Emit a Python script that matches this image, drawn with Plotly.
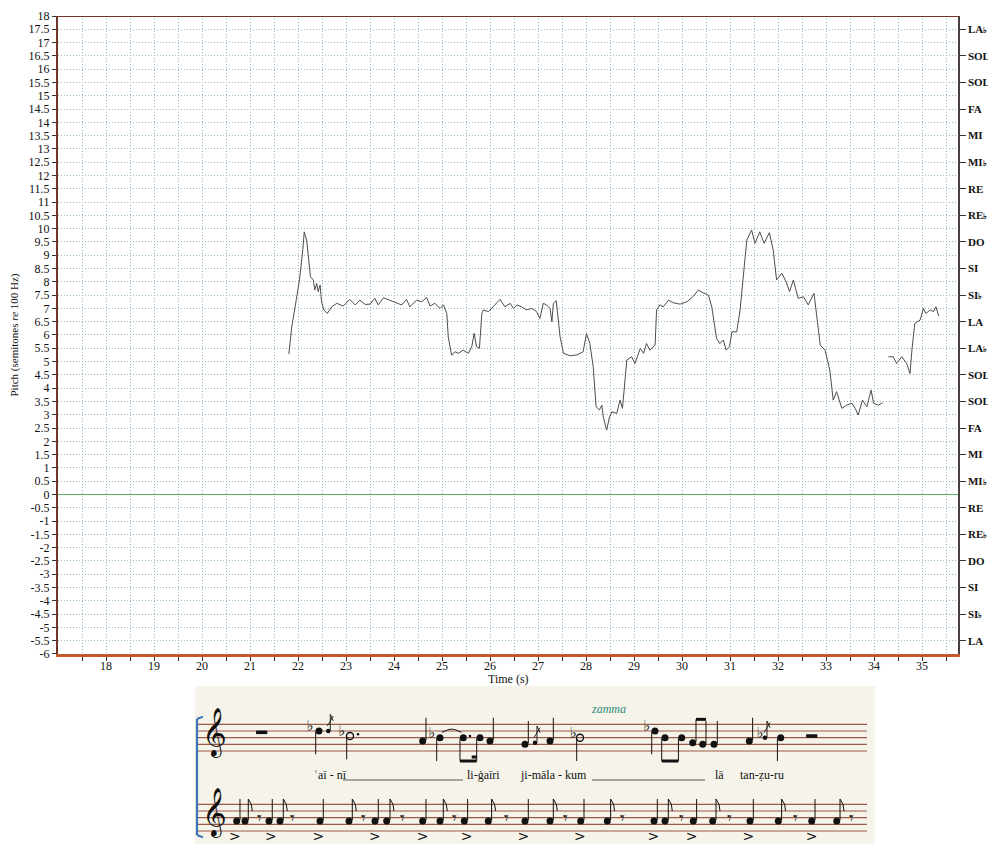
import plotly.graph_objects as go

# ---------------- pitch contour ----------------
time_s = [21.81, 21.87, 21.94, 22.03, 22.10, 22.13, 22.18, 22.22, 22.26, 22.32, 22.35, 22.39, 22.42, 22.46,
          22.49, 22.54, 22.61, 22.70, 22.81, 22.94, 23.08, 23.19, 23.29, 23.40, 23.50, 23.60, 23.67, 23.78,
          23.92, 24.06, 24.16, 24.26, 24.33, 24.47, 24.58, 24.68, 24.75, 24.85, 24.96, 25.03, 25.10, 25.13,
          25.20, 25.27, 25.34, 25.44, 25.55, 25.62, 25.67, 25.72, 25.78, 25.83, 25.86, 25.97, 26.07, 26.21,
          26.31, 26.42, 26.49, 26.56, 26.66, 26.76, 26.87, 26.97, 27.04, 27.11, 27.18, 27.25, 27.29, 27.32,
          27.38, 27.42, 27.46, 27.53, 27.67, 27.81, 27.94, 28.01, 28.08, 28.15, 28.21, 28.28, 28.33, 28.36,
          28.43, 28.49, 28.54, 28.64, 28.71, 28.76, 28.85, 28.95, 29.02, 29.13, 29.20, 29.26, 29.33, 29.44,
          29.47, 29.54, 29.61, 29.72, 29.82, 29.96, 30.10, 30.24, 30.34, 30.44, 30.55, 30.62, 30.65, 30.72,
          30.79, 30.86, 30.92, 30.99, 31.04, 31.14, 31.21, 31.28, 31.35, 31.45, 31.52, 31.62, 31.71, 31.82,
          31.90, 31.97, 32.08, 32.17, 32.24, 32.32, 32.42, 32.53, 32.63, 32.75, 32.88, 32.98, 33.08, 33.15,
          33.22, 33.33, 33.43, 33.54, 33.61, 33.67, 33.76, 33.85, 33.94, 33.99, 34.09, 34.18, None,
          34.30, 34.40, 34.47, 34.58, 34.68, 34.75, 34.79, 34.85, 34.96, 35.03, 35.08, 35.17, 35.24, 35.29,
          35.35]
pitch = [5.28, 6.31, 7.06, 8.07, 9.20, 9.88, 9.57, 8.94, 8.19, 8.07, 7.69, 7.94, 7.63, 7.88,
         7.25, 6.94, 6.81, 7.06, 7.19, 7.09, 7.34, 7.13, 7.31, 7.15, 7.16, 7.38, 7.13, 7.40,
         7.29, 7.21, 7.13, 7.34, 7.06, 7.31, 7.25, 7.41, 7.09, 7.19, 7.00, 7.13, 6.81, 5.93,
         5.24, 5.37, 5.31, 5.43, 5.31, 5.56, 6.06, 5.56, 5.50, 6.81, 6.94, 6.88, 7.06, 7.34,
         7.06, 7.19, 7.00, 7.13, 7.06, 6.94, 7.00, 6.88, 6.62, 7.19, 7.13, 7.00, 6.50, 7.19,
         7.29, 6.56, 5.93, 5.31, 5.22, 5.25, 5.37, 6.06, 5.68, 4.81, 3.30, 3.18, 3.36, 2.92,
         2.42, 2.92, 3.11, 3.05, 3.55, 3.24, 5.06, 5.18, 4.93, 5.49, 5.31, 5.68, 5.43, 5.62,
         6.94, 7.13, 7.06, 7.31, 7.21, 7.16, 7.25, 7.46, 7.69, 7.59, 7.50, 7.06, 6.69, 5.87,
         5.68, 5.81, 5.43, 5.56, 6.12, 6.12, 6.94, 8.19, 9.57, 9.95, 9.45, 9.88, 9.45, 9.85,
         9.20, 8.07, 8.32, 8.00, 7.63, 8.07, 7.38, 7.44, 7.13, 7.57, 5.62, 5.43, 4.68, 3.55,
         3.87, 3.24, 3.36, 3.43, 3.24, 2.99, 3.55, 3.30, 3.93, 3.43, 3.36, 3.45, None,
         5.18, 5.18, 4.93, 5.18, 4.93, 4.55, 5.43, 6.44, 6.56, 7.00, 6.81, 6.94, 6.88, 7.06,
         6.71]

# ---------------- axis ticks ----------------
y_tick_vals = [18, 17.5, 17, 16.5, 16, 15.5, 15, 14.5, 14, 13.5, 13, 12.5, 12, 11.5, 11, 10.5, 10, 9.5,
               9, 8.5, 8, 7.5, 7, 6.5, 6, 5.5, 5, 4.5, 4, 3.5, 3, 2.5, 2, 1.5, 1, 0.5, 0, -0.5, -1,
               -1.5, -2, -2.5, -3, -3.5, -4, -4.5, -5, -5.5, -6]
y_tick_text = ["18", "17.5", "17", "16.5", "16", "15.5", "15", "14.5", "14", "13.5", "13", "12.5", "12",
               "11.5", "11", "10.5", "10", "9.5", "9", "8.5", "8", "7.5", "7", "6.5", "6", "5.5", "5",
               "4.5", "4", "3.5", "3", "2.5", "2", "1.5", "1", "0.5", "0", "-0.5", "-1", "-1.5", "-2",
               "-2.5", "-3", "-3.5", "-4", "-4.5", "-5", "-5.5", "-6"]
x_tick_vals = [17.5, 18, 18.5, 19, 19.5, 20, 20.5, 21, 21.5, 22, 22.5, 23, 23.5, 24, 24.5, 25, 25.5, 26,
               26.5, 27, 27.5, 28, 28.5, 29, 29.5, 30, 30.5, 31, 31.5, 32, 32.5, 33, 33.5, 34, 34.5, 35, 35.5]
x_tick_text = ["", "18", "", "19", "", "20", "", "21", "", "22", "", "23", "", "24", "", "25", "", "26",
               "", "27", "", "28", "", "29", "", "30", "", "31", "", "32", "", "33", "", "34", "", "35", ""]
FL = "<span style='font-size:8px'>♭</span>"
solf_vals = [17.5, 16.5, 15.5, 14.5, 13.5, 12.5, 11.5, 10.5, 9.5, 8.5, 7.5, 6.5, 5.5, 4.5, 3.5, 2.5, 1.5,
             0.5, -0.5, -1.5, -2.5, -3.5, -4.5, -5.5]
solf_text = ["LA" + FL, "SOL", "SOL" + FL, "FA", "MI", "MI" + FL, "RE", "RE" + FL, "DO", "SI", "SI" + FL, "LA",
             "LA" + FL, "SOL", "SOL" + FL, "FA", "MI", "MI" + FL, "RE", "RE" + FL, "DO", "SI", "SI" + FL, "LA"]

# ---------------- score excerpt (positions along the score, staff steps) ----------------
# upper staff: step 0 = bottom line
up_x = [124, 227.7, 245, 268.3, 285, 295, 330, 355, 460, 470, 486.7, 497.7, 507.7, 519, 554.3, 585.7]
up_step = [6, 3, 4, 4, 4, 3, 2, 3, 6, 4, 4, 2.5, 2, 2, 3, 4]
up_dir = [-1, 1, -1, -1, -1, 1, 1, 1, -1, -1, -1, 1, 1, 1, 1, -1]
half_x = [155, 385]
half_step = [4.5, 4]
half_dir = [-1, -1]
grace_x = [133.3, 340, 570]
grace_step = [6, 2.5, 4]
flat_x = [115, 146.7, 236.7, 378.3, 451.7, 565]
flat_step = [6, 4.5, 4, 4, 6, 4]
dot_x = [163, 275]
dot_step = [5, 4.5]
half_rest_x = [66.7, 616.7]
half_rest_step = [5.6, 4.5]
beam_pairs = [(3, 4), (9, 10), (11, 12)]
tie_pair = (2, 3)

# lower staff: step -24 = bottom line
lo_quarter_x = [41.7, 74, 125, 180, 227.7, 269.3, 330, 385.7, 459, 498.3, 555, 616.7]
lo_eighth_x = [50, 85, 154, 191.7, 245, 293.3, 355, 412.3, 470, 517.7, 583.3, 641.7]
lo_rest_x = [65, 97.7, 168.3, 207.3, 260, 311.7, 371, 427.7, 486.7, 535, 600, 656.7]
lo_accent_x = [40, 76, 123.3, 180, 227.7, 271.7, 328.3, 385, 458.3, 496.7, 553.3, 616.7]
lo_step = -21

lyrics = [(117, "ʿaī - nī"), (270, "li-ġaīri"), (323, "ji-māla - kum"), (518, "lā"), (543, "tan-ẓu-ru")]
extenders = [(148, 268), (397, 510)]

SERIF = "Liberation Serif"
fig = go.Figure()

# ---- main pitch line ----
fig.add_trace(go.Scatter(x=time_s, y=pitch, mode="lines", line=dict(color="#4d4d4d", width=1),
                         connectgaps=False, showlegend=False, hoverinfo="skip"))
fig.add_trace(go.Scatter(x=[17, 35.75], y=[None, None], yaxis="y3", mode="lines", showlegend=False))

# ---- score drawing ----
INK = "#111111"
for base in (0, -24):
    for k in range(5):
        fig.add_shape(type="line", xref="x2", yref="y2", x0=2, x1=672, y0=base + 2 * k, y1=base + 2 * k,
                      line=dict(color="#9a5a48", width=1.2), layer="below")
fig.add_shape(type="line", xref="x2", yref="y2", x0=2, x1=2, y0=9.6, y1=-25.2, line=dict(color="#3c72b6", width=2.2))
fig.add_shape(type="line", xref="x2", yref="y2", x0=2, x1=8, y0=9.6, y1=10.3, line=dict(color="#3c72b6", width=2))
fig.add_shape(type="line", xref="x2", yref="y2", x0=2, x1=8, y0=-25.2, y1=-25.9, line=dict(color="#3c72b6", width=2))

def stems(xs, steps, dirs, length):
    sx, sy = [], []
    for x, s, d in zip(xs, steps, dirs):
        if d > 0:
            sx += [x + 3.3, x + 3.3, None]
            sy += [s + 0.3, s + length, None]
        else:
            sx += [x - 3.3, x - 3.3, None]
            sy += [s - 0.3, s - length, None]
    return sx, sy

sx, sy = stems(up_x + half_x, up_step + half_step, up_dir + half_dir, 7)
fig.add_trace(go.Scatter(x=sx, y=sy, xaxis="x2", yaxis="y2", mode="lines", line=dict(color=INK, width=1),
                         showlegend=False, hoverinfo="skip"))
bx, by = [], []
for a, b in beam_pairs:
    d = up_dir[a]
    off = 3.3 * d
    y0 = up_step[a] + 7 * d
    y1 = up_step[b] + 7 * d
    yy = max(y0, y1) if d > 0 else min(y0, y1)
    bx += [up_x[a] + off, up_x[b] + off, None]
    by += [yy, yy, None]
fig.add_trace(go.Scatter(x=bx, y=by, xaxis="x2", yaxis="y2", mode="lines", line=dict(color=INK, width=3),
                         showlegend=False, hoverinfo="skip"))
fig.add_trace(go.Scatter(x=[up_x[4] - 3.3 - 5, up_x[4] - 3.3], y=[up_step[4] - 5.8, up_step[4] - 5.8],
                         xaxis="x2", yaxis="y2", mode="lines", line=dict(color=INK, width=3),
                         showlegend=False, hoverinfo="skip"))
a, b = tie_pair
fig.add_trace(go.Scatter(x=[up_x[a] + 2, (up_x[a] + up_x[b]) / 2, up_x[b] - 2],
                         y=[up_step[a] + 1.6, up_step[a] + 2.6, up_step[b] + 1.6],
                         xaxis="x2", yaxis="y2", mode="lines", line=dict(color=INK, width=1, shape="spline"),
                         showlegend=False, hoverinfo="skip"))
fig.add_trace(go.Scatter(x=up_x, y=up_step, xaxis="x2", yaxis="y2", mode="markers",
                         marker=dict(symbol="circle", size=7, color=INK), showlegend=False, hoverinfo="skip"))
fig.add_trace(go.Scatter(x=half_x, y=half_step, xaxis="x2", yaxis="y2", mode="markers",
                         marker=dict(symbol="circle-open", size=7, color=INK, line=dict(width=1.4)),
                         showlegend=False, hoverinfo="skip"))
gx, gy = [], []
for x, s in zip(grace_x, grace_step):
    gx += [x + 2, x + 2, x + 5, None, x - 1, x + 5, None]
    gy += [s, s + 5, s + 3, None, s + 1.5, s + 4.5, None]
fig.add_trace(go.Scatter(x=gx, y=gy, xaxis="x2", yaxis="y2", mode="lines", line=dict(color=INK, width=0.9),
                         showlegend=False, hoverinfo="skip"))
fig.add_trace(go.Scatter(x=grace_x, y=grace_step, xaxis="x2", yaxis="y2", mode="markers",
                         marker=dict(symbol="circle", size=4.5, color=INK), showlegend=False, hoverinfo="skip"))
fig.add_trace(go.Scatter(x=dot_x, y=dot_step, xaxis="x2", yaxis="y2", mode="markers",
                         marker=dict(symbol="circle", size=2.5, color=INK), showlegend=False, hoverinfo="skip"))
fig.add_trace(go.Scatter(x=flat_x, y=[s + 1.0 for s in flat_step], xaxis="x2", yaxis="y2", mode="text",
                         text=["♭"] * len(flat_x), textfont=dict(family="DejaVu Sans", size=15, color=INK),
                         showlegend=False, hoverinfo="skip"))
fig.add_trace(go.Scatter(x=half_rest_x, y=half_rest_step, xaxis="x2", yaxis="y2", mode="markers",
                         marker=dict(symbol="line-ew", size=8, line=dict(width=3.5, color=INK)),
                         showlegend=False, hoverinfo="skip"))

lo_all = lo_quarter_x + lo_eighth_x
sx, sy = stems(lo_all, [lo_step] * len(lo_all), [1] * len(lo_all), 6.6)
for x in lo_eighth_x:
    sx += [x + 3.3, x + 6.3, x + 7.3, None]
    sy += [lo_step + 6.6, lo_step + 5.0, lo_step + 3.0, None]
fig.add_trace(go.Scatter(x=sx, y=sy, xaxis="x2", yaxis="y2", mode="lines", line=dict(color=INK, width=1),
                         showlegend=False, hoverinfo="skip"))
fig.add_trace(go.Scatter(x=lo_all, y=[lo_step] * len(lo_all), xaxis="x2", yaxis="y2", mode="markers",
                         marker=dict(symbol="circle", size=7, color=INK), showlegend=False, hoverinfo="skip"))
fig.add_trace(go.Scatter(x=lo_rest_x, y=[lo_step + 0.6] * len(lo_rest_x), xaxis="x2", yaxis="y2", mode="text",
                         text=["𝄾"] * len(lo_rest_x), textfont=dict(family="DejaVu Sans", size=18, color=INK),
                         showlegend=False, hoverinfo="skip"))
fig.add_trace(go.Scatter(x=lo_accent_x, y=[-26.0] * len(lo_accent_x), xaxis="x2", yaxis="y2", mode="text",
                         text=[">"] * len(lo_accent_x), textfont=dict(family="DejaVu Sans", size=14, color=INK),
                         showlegend=False, hoverinfo="skip"))
fig.add_trace(go.Scatter(x=[20, 20], y=[4.6, -19.4], xaxis="x2", yaxis="y2", mode="text",
                         text=["𝄞", "𝄞"], textfont=dict(family="DejaVu Sans", size=42, color=INK),
                         showlegend=False, hoverinfo="skip"))

for x, t in lyrics:
    fig.add_annotation(x=x, y=-7.2, xref="x2", yref="y2", text=t, showarrow=False, xanchor="left",
                       font=dict(family=SERIF, size=12, color=INK))
for x0, x1 in extenders:
    fig.add_shape(type="line", xref="x2", yref="y2", x0=x0, x1=x1, y0=-8.7, y1=-8.7,
                  line=dict(color="#555555", width=1))
fig.add_annotation(x=413, y=12.6, xref="x2", yref="y2", text="<i>zamma</i>", showarrow=False,
                   font=dict(family=SERIF, size=12, color="#2a8a78"))

fig.add_shape(type="rect", xref="x2 domain", yref="y2 domain", x0=0, x1=1, y0=0, y1=1,
              fillcolor="#f6f4ea", line=dict(width=0), layer="below")

fig.add_shape(type="line", xref="x", yref="y", x0=17, x1=35.75, y0=18, y1=18,
              line=dict(color="#6e3526", width=2))

# x-axis title
fig.add_annotation(x=0.5, y=0.1993, xref="paper", yref="paper", text="Time (s)", showarrow=False,
                   yanchor="middle", font=dict(family=SERIF, size=12, color="#111111"))

GRID = "#93b7ca"
fig.update_layout(
    width=988, height=836,
    margin=dict(l=50, r=38, t=8, b=0),
    paper_bgcolor="white", plot_bgcolor="white",
    showlegend=False,
    font=dict(family=SERIF, color="#111111"),
    xaxis=dict(domain=[0, 1], anchor="y", range=[17, 35.75], tickvals=x_tick_vals, ticktext=x_tick_text,
               ticks="outside", ticklen=4, tickcolor="#333", tickfont=dict(family=SERIF, size=12),
               ticklabelstandoff=-5,
               showgrid=True, gridcolor=GRID, griddash="1px,2px", gridwidth=1, automargin=False,
               showline=True, linecolor="#c4582c", linewidth=3, zeroline=False),
    yaxis=dict(domain=[0.2295, 1], anchor="x", range=[-6, 18], tickvals=y_tick_vals, ticktext=y_tick_text,
               ticks="outside", ticklen=4, tickcolor="#333", tickfont=dict(family=SERIF, size=12),
               showgrid=True, gridcolor=GRID, griddash="1px,2px", gridwidth=1, automargin=False,
               zeroline=True, zerolinecolor="#5fb35f", zerolinewidth=1.2,
               showline=True, linecolor="#6e3526", linewidth=2,
               title=dict(text="Pitch (semitones <i>re</i> 100 Hz)", font=dict(family=SERIF, size=11), standoff=12)),
    yaxis3=dict(overlaying="y", side="right", anchor="x", range=[-6, 18], tickvals=solf_vals,
                ticktext=["<b>" + t + "</b>" for t in solf_text], ticks="outside", ticklen=6, tickcolor="#333",
                tickfont=dict(family=SERIF, size=11), showgrid=False, zeroline=False, automargin=False,
                showline=True, linecolor="#4a4040", linewidth=1.5),
    xaxis2=dict(domain=[0.1522, 0.9078], anchor="y2", range=[0, 680], visible=False, fixedrange=True),
    yaxis2=dict(domain=[0, 0.1908], anchor="x2", range=[-27.9, 19.5], visible=False, fixedrange=True),
)

fig.write_html("out.html")
